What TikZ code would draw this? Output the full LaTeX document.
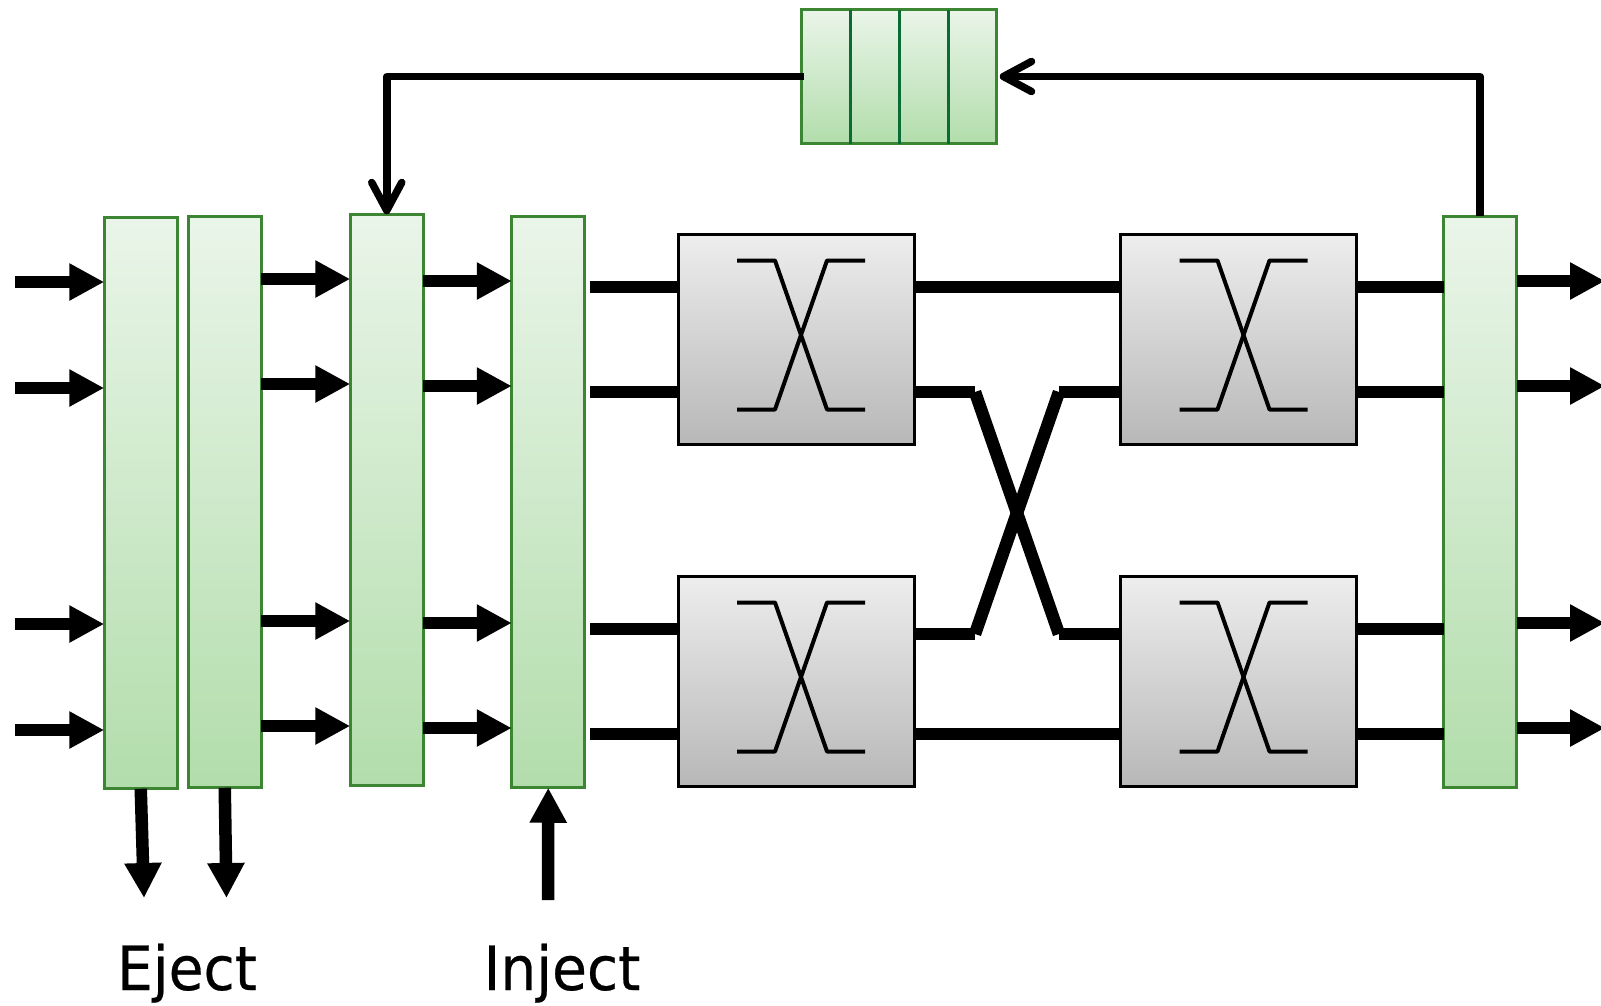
\documentclass[tikz,border=0pt]{standalone}
\usepackage{fontspec}
\newfontfamily\labelfont[FakeStretch=0.93,FakeBold=0.4]{DejaVu Sans}
\usetikzlibrary{arrows.meta,positioning,calc}
\definecolor{barline}{HTML}{3C8532}
\definecolor{bartop}{HTML}{EAF5E9}
\definecolor{barbottom}{HTML}{B2DDAB}
\definecolor{slotline}{HTML}{0A6B35}
\tikzset{
  %Define standard arrow tip
  >={Triangle[length=35pt,width=35pt]},
  %Define style for green buffers
  bufbar/.style={
    rectangle,
    draw=barline, line width=3pt,
    top color=bartop, bottom color=barbottom,
    minimum width=73pt,
    minimum height=571.5pt,
    inner sep=0pt, outer sep=0pt},
  %Define style for crossbar boxes
  swbox/.style={
    rectangle,
    draw=black, line width=3pt,
    top color=black!7, bottom color=black!28,
    minimum width=236pt,
    minimum height=209.5pt,
    inner sep=0pt, outer sep=0pt},
  % Define wire styles
  wire/.style={line width=12.5pt},
  pil/.style={wire,->},
  fback/.style={
    line width=7.5pt,
    line join=round,
    -{Straight Barb[length=28pt,width=30pt,round]}},
  xbar/.style={line width=4pt,line join=round},
  tag/.style={font=\labelfont\fontsize{61}{61}\selectfont,inner sep=0pt,anchor=base}
}

\begin{document}
\begin{tikzpicture}[x=1pt,y=-1pt]
  \useasboundingbox (0,0) rectangle (1601,1005);
  \node[bufbar] (bufa) at (140.75,503) {};
  \node[bufbar,right=11pt of bufa,yshift=1pt] (bufb) {};
  \node[bufbar,right=89pt of bufb,yshift=2pt] (bufc) {};
  \node[bufbar,right=88.5pt of bufc,yshift=-2pt] (bufd) {};
  \node[swbox,right=93.25pt of bufd,yshift=162.5pt] (swa) {};
  \node[swbox,right=206.5pt of swa] (swb) {};
  \node[swbox,below=132.5pt of swa] (swc) {};
  \node[swbox,below=132.5pt of swb] (swd) {};
  \node[bufbar,right=87pt of swb,yshift=-162.5pt] (bufe) {};
  \node[rectangle,draw=barline,line width=3pt,top color=bartop,bottom color=barbottom,
        minimum width=195pt,minimum height=134pt,inner sep=0pt,outer sep=0pt] (queue) at (899.25,76.5) {};
  \node[tag] (eject) at (187,990) {Eject};
  \node[tag] (inject) at (562,990) {Inject};
  \coordinate (ejecta) at (144,898);
  \coordinate (ejectb) at (226.5,898);
  \coordinate (injectfoot) at (548,900);

  % queue slots
  \foreach \f in {0.25,0.5,0.75}
    \draw[slotline,line width=3pt] ($(queue.north west)!\f!(queue.north east)$) -- ($(queue.south west)!\f!(queue.south east)$);

  % crossbar symbol in each box
  \foreach \sw in {swa,swb,swc,swd}{
    \begin{scope}[shift={(\sw.center)}]
      \draw[xbar] (-59,-79) -- (-21,-79) -- (31,70) -- (69,70);
      \draw[xbar] (-59,70) -- (-21,70) -- (31,-79) -- (69,-79);
    \end{scope}
  }

  % arrows along the row of buffers
  \foreach \y in {282,388,624,730}{
    \coordinate (start\y) at (15,\y);
    \draw[pil] (start\y) -- (bufa.west |- start\y);
  }
  \foreach \y in {279,384,621,726}
    \draw[pil] (bufb.east |- 0,\y) -- (bufc.west |- 0,\y);
  \foreach \y in {281,386,623,728}{
    \draw[pil] (bufc.east |- 0,\y) -- (bufd.west |- 0,\y);
    \coordinate (out\y) at (1605,\y);
    \draw[pil] (bufe.east |- out\y) -- (out\y);
  }

  % wires into and out of the boxes
  \foreach \y in {287,392,629,734}{
    \draw[wire,shorten <=5pt] (bufd.east |- 0,\y) -- (swa.west |- 0,\y);
    \draw[wire] (swb.east |- 0,\y) -- (bufe.west |- 0,\y);
  }
  \draw[wire] (swa.east |- 0,287) -- (swb.west |- 0,287);
  \draw[wire] (swc.east |- 0,734) -- (swd.west |- 0,734);

  % the shuffle between the two stages
  \coordinate (shufa) at (975,392);
  \coordinate (shufb) at (1059,392);
  \coordinate (shufc) at (975,634);
  \coordinate (shufd) at (1059,634);
  \draw[wire] (swa.east |- shufa) -- (shufa);
  \draw[wire] (shufb) -- (swb.west |- shufb);
  \draw[wire] (swc.east |- shufc) -- (shufc);
  \draw[wire] (shufd) -- (swd.west |- shufd);
  \draw[wire] (shufa) -- (shufd);
  \draw[wire] (shufc) -- (shufb);

  % feedback through the queue
  \draw[fback] ([xshift=2pt]queue.west) -| (bufc.north);
  \draw[fback] (bufe.north) |- ([xshift=3pt]queue.east);

  % eject and inject
  \draw[pil] (bufa.south) -- (ejecta);
  \draw[pil] (bufb.south) -- (ejectb);
  \draw[pil] (injectfoot) -- (bufd.south);
\end{tikzpicture}
\end{document}
